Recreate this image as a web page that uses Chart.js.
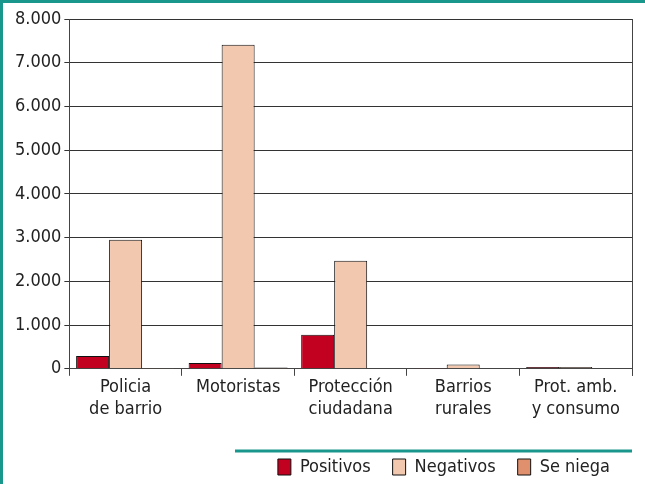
<!DOCTYPE html>
<html>
<head>
<meta charset="utf-8">
<script src="https://cdn.jsdelivr.net/npm/chart.js@4/dist/chart.umd.min.js"></script>
<style>
  html, body { margin: 0; padding: 0; background: #fff; }
  #wrap { position: relative; width: 645px; height: 484px; box-sizing: border-box;
          border-top: 3px solid #1a978c; border-left: 3px solid #1a978c; }
  canvas { display: block; }
</style>
</head>
<body>
<div id="wrap"><canvas id="servicesChart" width="642" height="481"></canvas></div>
<script>
const categories = [
    ["Policia", "de barrio"],
    "Motoristas",
    ["Protección", "ciudadana"],
    ["Barrios", "rurales"],
    ["Prot. amb.", "y consumo"],
];
const positivos = [290, 130, 780, 20, 40];
const negativos = [2950, 7410, 2470, 100, 40];
const seNiega = [20, 30, 15, 0, 0];

const FONT = "'DejaVu Sans Condensed', 'Liberation Sans Narrow', sans-serif";
Chart.defaults.font.family = FONT;
Chart.defaults.color = "#222";

const frameLines = {
    id: "frameLines",
    afterDraw(chart) {
        const ctx = chart.ctx;
        const a = chart.chartArea;
        ctx.save();
        ctx.strokeStyle = "#444";
        ctx.lineWidth = 1;
        ctx.beginPath();
        ctx.moveTo(Math.round(a.right) + 0.5, a.top);
        ctx.lineTo(Math.round(a.right) + 0.5, a.bottom + 7);
        ctx.stroke();
        // teal rule above the legend
        const lg = chart.legend;
        const y = lg.legendHitBoxes[0].top - 7;
        ctx.strokeStyle = "#1a978c";
        ctx.lineWidth = 3;
        ctx.beginPath();
        ctx.moveTo(232, y);
        ctx.lineTo(a.right, y);
        ctx.stroke();
        ctx.restore();
    },
};

const servicesData = {
    labels: categories,
    datasets: [
        { label: "Positivos", data: positivos, backgroundColor: "#c2001f" },
        { label: "Negativos", data: negativos, backgroundColor: "#f2c8af" },
        { label: "Se niega", data: seNiega, backgroundColor: "#e0906c" },
    ],
};

const servicesConfig = {
    type: "bar",
    data: servicesData,
    options: {
        responsive: false,
        animation: false,
        layout: { padding: { top: 16, right: 13, left: 9, bottom: -2 } },
        datasets: {
            bar: {
                borderColor: "#111",
                borderWidth: 1,
                categoryPercentage: 0.88,
                barPercentage: 1,
            },
        },
        scales: {
            x: {
                grid: { offset: true, drawOnChartArea: false, drawTicks: true, tickLength: 7, color: "#444" },
                border: { color: "#444" },
                ticks: { font: { size: 18, lineHeight: 1.2 }, color: "#222", padding: 1, maxRotation: 0 },
                afterFit: (scale) => { scale.height += 15; },
            },
            y: {
                min: 0,
                max: 8000,
                grid: { color: "#333", tickLength: 5 },
                border: { color: "#444" },
                ticks: {
                    stepSize: 1000,
                    font: { size: 18 },
                    color: "#222",
                    padding: 3,
                    callback: (v) => v.toLocaleString("de-DE"),
                },
            },
        },
        plugins: {
            tooltip: { enabled: false },
            legend: {
                position: "bottom",
                align: "end",
                labels: {
                    boxWidth: 13,
                    boxHeight: 16,
                    padding: 22,
                    font: { size: 18 },
                    color: "#222",
                },
            },
        },
    },
    plugins: [frameLines],
};

const servicesChart = new Chart(document.getElementById("servicesChart"), servicesConfig);
</script>
</body>
</html>
